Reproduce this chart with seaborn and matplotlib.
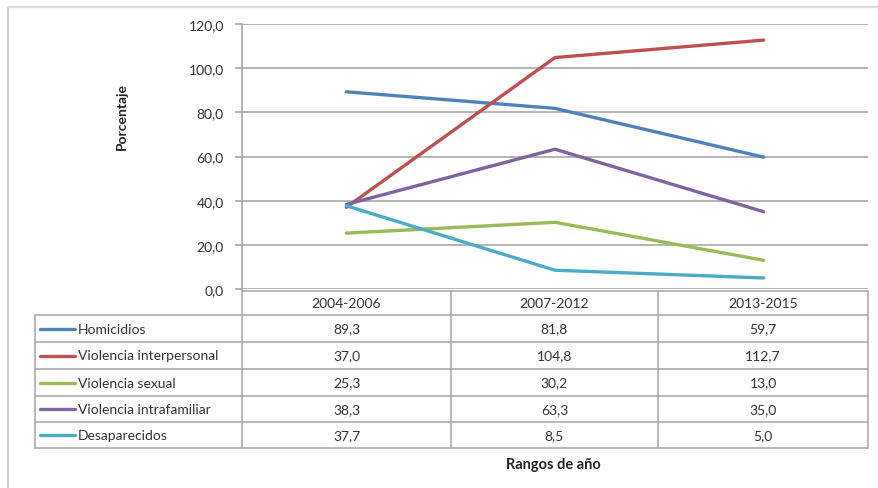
import matplotlib
matplotlib.use("Agg")
import matplotlib.pyplot as plt
import seaborn as sns
import pandas as pd

categories = ["2004-2006", "2007-2012", "2013-2015"]
series_names = ["Homicidios", "Violencia interpersonal", "Violencia sexual",
                "Violencia intrafamiliar", "Desaparecidos"]
homicidios = [89.3, 81.8, 59.7]
interpersonal = [37.0, 104.8, 112.7]
sexual = [25.3, 30.2, 13.0]
intrafamiliar = [38.3, 63.3, 35.0]
desaparecidos = [37.7, 8.5, 5.0]
y_ticks = [0, 20, 40, 60, 80, 100, 120]
colors = ["#4F81BD", "#C0504D", "#9BBB59", "#8064A2", "#4BACC6"]

values = [homicidios, interpersonal, sexual, intrafamiliar, desaparecidos]
rows = []
for name, vals in zip(series_names, values):
    for c, v in zip(categories, vals):
        rows.append({"Rango": c, "Serie": name, "Valor": v})
df = pd.DataFrame(rows)

sns.set_style("white")
plt.rcParams["font.family"] = ["Lato", "DejaVu Sans"]

W, H = 879, 489
fig = plt.figure(figsize=(W / 100, H / 100), dpi=100)

def fx(px):
    return px / W

def fy(py):
    return 1 - py / H

# background overlay axes in pixel coordinates
bg = fig.add_axes([0, 0, 1, 1])
bg.set_xlim(0, W)
bg.set_ylim(H, 0)
bg.axis("off")
bg.patch.set_alpha(0)

# outer frame
bg.plot([8, 8], [8, H + 5], color="#D0D0D0", lw=1.6)
bg.plot([8, W + 5], [8, 8], color="#D9D9D9", lw=1.6)

L, R, T, B = 242, 868, 25, 290
ax = fig.add_axes([fx(L), fy(B), fx(R - L), (B - T) / H])
ax.patch.set_alpha(0)
sns.lineplot(data=df, x="Rango", y="Valor", hue="Serie", palette=colors,
             hue_order=series_names, sort=False, lw=2.4, ax=ax, legend=False)
ax.set_xlim(-0.5, 2.5)
ax.set_ylim(0, 120)
ax.set_yticks(y_ticks)
ax.set_yticklabels([f"{v:.1f}".replace(".", ",") for v in y_ticks],
                   fontsize=10, color="#333333")
ax.set_xticks([])
ax.set_xlabel("")
ax.set_ylabel("")
ax.grid(axis="y", color="#A0A0A0", lw=1.1)
for s in ["top", "right", "bottom"]:
    ax.spines[s].set_visible(False)
ax.spines["left"].set_color("#A0A0A0")
ax.spines["left"].set_linewidth(1.1)
ax.tick_params(axis="y", length=5, color="#A0A0A0", width=1.1, pad=8, left=True)
ax.set_axisbelow(True)

# Axis titles
fig.text(fx(122), fy(117), "Porcentaje", rotation=90, ha="center", va="center",
         fontsize=10, fontweight="bold", color="#222222")
fig.text(fx(553), fy(465), "Rangos de año", ha="center", va="center",
         fontsize=10.5, fontweight="bold", color="#222222")

# Data table
grid_c = "#A6A6A6"
tL, tR = 35, 868
col_x = [242, 451, 658, 868]
row_y = [292, 316, 343, 370, 397, 423, 449]
bg.plot([242, tR], [row_y[0], row_y[0]], color=grid_c, lw=1.1)
for y in row_y[1:]:
    bg.plot([tL, tR], [y, y], color=grid_c, lw=1.1)
for x in col_x:
    bg.plot([x, x], [row_y[0] if x != 242 else B, row_y[-1]], color=grid_c, lw=1.1)
bg.plot([tL, tL], [row_y[1], row_y[-1]], color=grid_c, lw=1.1)

for j, c in enumerate(categories):
    cx = (col_x[j] + col_x[j + 1]) / 2
    bg.text(cx, (row_y[0] + row_y[1]) / 2, c, ha="center", va="center",
            fontsize=10, color="#333333")
for i, (name, vals) in enumerate(zip(series_names, values)):
    cy = (row_y[i + 1] + row_y[i + 2]) / 2
    bg.plot([40, 75], [cy, cy], color=colors[i], lw=2.4)
    bg.text(78, cy, name, ha="left", va="center", fontsize=10, color="#333333")
    for j, v in enumerate(vals):
        cx = (col_x[j] + col_x[j + 1]) / 2
        bg.text(cx, cy, f"{v:.1f}".replace(".", ","), ha="center", va="center",
                fontsize=10, color="#333333")

fig.savefig("out.png", dpi=100, facecolor="white")
